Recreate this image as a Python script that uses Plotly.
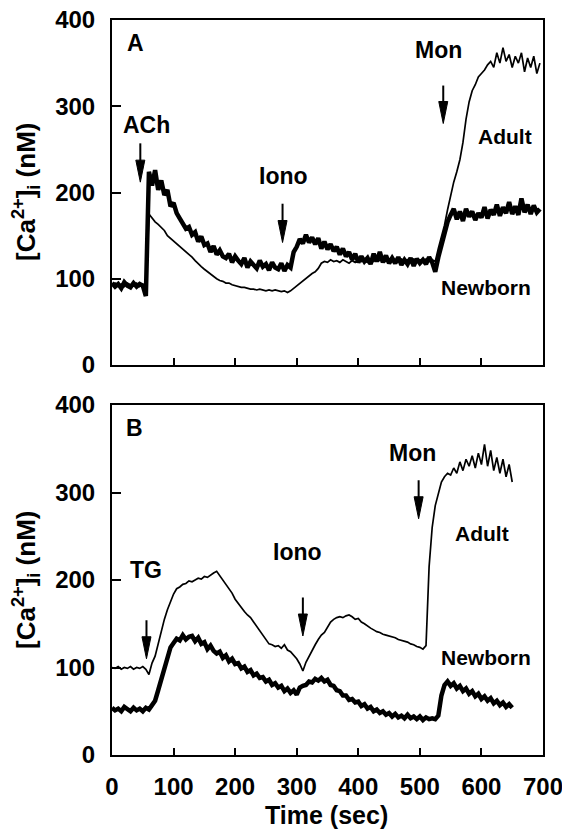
import plotly.graph_objects as go

# ---------------- data ----------------
time_a = list(range(0, 700, 5))
newborn_a = [95, 91, 94, 89, 96, 92, 90, 95, 91, 94, 92,
             80,
             224, 208, 226, 203, 214, 197, 203, 184, 188, 176, 170, 165, 158, 160, 151,
             154, 143, 149, 139, 141, 131, 138, 128, 133, 126, 124, 129, 119, 126, 121, 117, 124, 113, 120, 116,
             112, 121, 114, 117, 110, 119, 113, 111, 118, 109, 116, 113,
             131, 137, 146, 141, 151, 142, 148, 140, 147, 135, 143, 134, 140, 132, 137, 128, 135, 126, 131, 122,
             129, 119, 126, 120, 124, 117, 129, 120, 131, 119, 127, 118, 124, 118, 125, 116, 122, 117, 124, 115,
             123, 118, 122, 117, 125, 119,
             108, 125, 138, 152, 166, 174, 181, 169, 178, 167, 181, 172, 178, 168, 176, 171, 183, 170, 180, 174,
             186, 173, 183, 176, 189, 175, 184, 174, 193, 177, 186, 175, 185, 177, 181]
adult_a = [93, 95, 92, 94, 91, 95, 93, 92, 95, 91, 94,
           88, 175, 170, 166, 163, 160, 156, 150, 147, 143, 141, 137, 135, 132, 129, 125, 121, 117, 114,
           111, 108, 105, 103, 100, 98, 97, 95, 95, 93, 92, 91, 90, 90, 89, 88, 88, 87, 88, 87,
           86, 87, 86, 87, 86, 85, 86, 84, 86, 89, 92, 95, 97, 100, 103, 106, 108, 112, 118, 120,
           119, 122, 120, 121, 119, 122, 120, 118, 121, 119, 122, 120, 121, 119, 122, 120, 123, 121, 122, 120,
           123, 121, 122, 120, 123, 121, 122, 120, 123, 121, 122, 121, 123, 120, 122, 120, 135, 148, 162, 180,
           196, 212, 224, 238, 258, 285, 305, 318, 325, 334, 338, 342, 348, 352, 345, 362, 350, 368, 352, 360,
           345, 358, 350, 362, 340, 356, 345, 358, 338, 350]

time_b = list(range(0, 655, 5))
adult_b = [100, 99, 101, 98, 100, 99, 101, 98, 100, 99, 101, 98, 92, 105, 113, 128, 142, 155, 166, 175,
           184, 190, 192, 195, 196, 199, 198, 200, 202, 201, 204, 203, 206, 208, 210, 205, 200, 196, 190, 185,
           178, 173, 168, 164, 160, 157, 152, 147, 142, 137, 132, 127, 126, 124, 125, 122, 126, 120, 118, 114,
           110, 104, 96, 106, 113, 119, 126, 132, 137, 140, 146, 152, 155, 157, 158, 157, 159, 160, 158, 155,
           156, 152, 150, 147, 145, 143, 141, 140, 138, 137, 136, 135, 134, 132, 131, 130, 129, 127, 126, 124,
           123, 121, 125, 215, 260, 285, 300, 312, 318, 322, 320, 328, 322, 335, 325, 338, 330, 342, 328, 345,
           332, 355, 330, 348, 325, 340, 322, 338, 318, 332, 312]
newborn_b = [54, 51, 53, 50, 55, 52, 50, 54, 51, 53, 50, 54, 52,
             57, 62, 74, 87, 101, 114, 123, 128,
             133, 131, 137, 132, 135, 136, 130, 134, 127, 129,
             121, 125, 119, 116, 118, 111, 114, 107, 110, 104,
             105, 99, 101, 95, 97, 91, 93, 88, 89, 84,
             86, 80, 82, 77, 79, 73, 76, 71, 74, 69,
             77, 79, 80, 84, 83, 87, 85, 88, 84, 86,
             80, 79, 74, 73, 68, 68, 63, 64, 60, 61,
             56, 58, 53, 55, 50, 52, 48, 50, 46, 48,
             44, 47, 43, 45, 42, 46, 42, 44, 41, 44,
             40, 43, 41, 42, 41, 45,
             68, 80, 84, 79, 82, 76, 79, 73, 76, 70, 73, 67, 70, 64, 67, 62, 65, 59, 62, 57, 60, 55, 58, 54]

x_ticks = [0, 100, 200, 300, 400, 500, 600, 700]
y_ticks = [0, 100, 200, 300, 400]

# ---------------- figure ----------------
W, H = 562, 835
FONT = "Liberation Sans, Arial, Helvetica, sans-serif"

def fx(px):
    return px / W

def fy(py):
    return 1 - py / H

fig = go.Figure()
fig.add_trace(go.Scatter(x=time_a, y=newborn_a, mode="lines", line=dict(color="black", width=4.5),
                         xaxis="x", yaxis="y", showlegend=False))
fig.add_trace(go.Scatter(x=time_a, y=adult_a, mode="lines", line=dict(color="black", width=1.7),
                         xaxis="x", yaxis="y", showlegend=False))
fig.add_trace(go.Scatter(x=time_b, y=adult_b, mode="lines", line=dict(color="black", width=1.7),
                         xaxis="x2", yaxis="y2", showlegend=False))
fig.add_trace(go.Scatter(x=time_b, y=newborn_b, mode="lines", line=dict(color="black", width=4.5),
                         xaxis="x2", yaxis="y2", showlegend=False))

X0, X1 = 112, 543
A_TOP, A_BOT = 20, 365
B_TOP, B_BOT = 405, 755
xdom = [fx(X0), fx(X1)]
ydom_a = [fy(A_BOT), fy(A_TOP)]
ydom_b = [fy(B_BOT), fy(B_TOP)]

tickfont = dict(family=FONT, size=24, color="black", weight="bold")
common_x = dict(range=[0, 700], tickvals=x_ticks, showline=True, mirror=True, linecolor="black",
                linewidth=2, ticks="inside", ticklen=7, tickwidth=1.5, tickcolor="black",
                showgrid=False, zeroline=False, tickfont=tickfont, domain=xdom, automargin=False,
                ticklabeloverflow="allow")
common_y = dict(range=[0, 400], tickvals=y_ticks, showline=True, mirror=True, linecolor="black",
                linewidth=2, ticks="inside", ticklen=9, tickwidth=1.5, tickcolor="black",
                showgrid=False, zeroline=False, tickfont=tickfont, ticklabelstandoff=10,
                automargin=False, ticklabeloverflow="allow")

fig.update_layout(
    width=W, height=H, margin=dict(l=0, r=0, t=0, b=0),
    paper_bgcolor="white", plot_bgcolor="white",
    xaxis=dict(common_x, anchor="y", showticklabels=False),
    yaxis=dict(common_y, anchor="x", domain=ydom_a),
    xaxis2=dict(common_x, anchor="y2", ticklabelstandoff=9),
    yaxis2=dict(common_y, anchor="x2", domain=ydom_b),
)

ann = []
shapes = []

def label(text, x, y, xref, yref, size=23):
    ann.append(dict(text=text, x=x, y=y, xref=xref, yref=yref, showarrow=False,
                    xanchor="center", yanchor="middle",
                    font=dict(family=FONT, size=size, color="black", weight="bold")))

px_per_s = (X1 - X0) / 700.0

def arrow(x, y_tail, y_tip, xref, yref, top, bot):
    px_per_u = (bot - top) / 400.0
    hl = 22 / px_per_u          # head length (data units)
    hw = 4.5 / px_per_s         # half head width (data units)
    shapes.append(dict(type="line", xref=xref, yref=yref, x0=x, x1=x, y0=y_tail, y1=y_tip + hl * 0.8,
                       line=dict(color="black", width=2)))
    shapes.append(dict(type="path", xref=xref, yref=yref,
                       path=f"M {x - hw},{y_tip + hl} L {x + hw},{y_tip + hl} L {x},{y_tip} Z",
                       fillcolor="black", line=dict(color="black", width=1)))

# Panel A
label("A", 38, 373, "x", "y")
label("ACh", 56, 278, "x", "y")
arrow(46, 257, 212, "x", "y", A_TOP, A_BOT)
label("Iono", 278, 219, "x", "y")
arrow(277, 187, 142, "x", "y", A_TOP, A_BOT)
label("Mon", 530, 365, "x", "y")
arrow(538, 324, 280, "x", "y", A_TOP, A_BOT)
label("Adult", 639, 265, "x", "y", size=21)
label("Newborn", 608, 90, "x", "y", size=21)

# Panel B
label("B", 37, 374, "x2", "y2")
label("TG", 55, 212, "x2", "y2")
arrow(56, 154, 110, "x2", "y2", B_TOP, B_BOT)
label("Iono", 301, 232, "x2", "y2")
arrow(310, 180, 136, "x2", "y2", B_TOP, B_BOT)
label("Mon", 488, 345, "x2", "y2")
arrow(498, 314, 270, "x2", "y2", B_TOP, B_BOT)
label("Adult", 601, 253, "x2", "y2", size=21)
label("Newborn", 608, 112, "x2", "y2", size=21)

# Axis titles
ytitle = "[Ca<sup>2+</sup>]<sub>i</sub> (nM)"
for yc in [192, 580]:
    ann.append(dict(text=ytitle, x=fx(26), y=fy(yc), xref="paper", yref="paper", showarrow=False,
                    textangle=-90, xanchor="center", yanchor="middle",
                    font=dict(family=FONT, size=26, color="black", weight="bold")))
ann.append(dict(text="Time (sec)", x=fx(326), y=fy(815), xref="paper", yref="paper",
                showarrow=False, xanchor="center", yanchor="middle",
                font=dict(family=FONT, size=25, color="black", weight="bold")))

fig.update_layout(annotations=ann, shapes=shapes)
# remove the page's default body margin so the figure fills the window exactly
fig.write_html("out.html", config={"displayModeBar": False},
               post_script="document.body.style.margin='0';document.body.style.overflow='hidden';")
